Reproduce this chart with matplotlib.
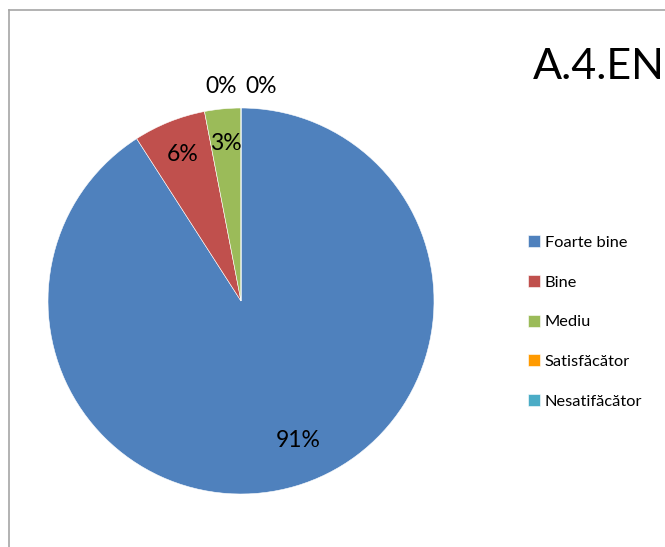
import numpy as np
import matplotlib
matplotlib.use('Agg')
import matplotlib.pyplot as plt
from matplotlib.lines import Line2D

plt.rcParams['font.family'] = ['Lato', 'DejaVu Sans']

## data
categories = ['Foarte bine', 'Bine', 'Mediu', 'Satisfăcător', 'Nesatifăcător']
counts = [30, 2, 1, 0, 0]
colors = ['#4F81BD', '#C0504D', '#9BBB59', '#FF9A00', '#4BACC6']
title = 'A.4.EN'
##

fig = plt.figure(figsize=(6.65, 5.47), dpi=100)
fig.patch.set_facecolor('white')

# pie axes (center ~ (241, 301) px, radius ~193 px)
ax = fig.add_axes([48 / 665, 53 / 547, 386 / 665, 386 / 547])
wedges, texts, autotexts = ax.pie(counts, colors=colors, startangle=90,
                                  counterclock=False, radius=1,
                                  autopct='%1.0f%%', pctdistance=0.82,
                                  wedgeprops=dict(edgecolor='white', linewidth=0.4),
                                  textprops=dict(fontsize=16.5, color='black'))
ax.set_xlim(-1, 1)
ax.set_ylim(-1, 1)
ax.set_aspect('auto')

# biggest slice label sits a bit closer to the right, like Excel's best fit
big = int(np.argmax(counts))
x0, y0 = autotexts[big].get_position()
ang = np.arctan2(y0, x0) + np.deg2rad(6)
autotexts[big].set_position((0.78 * np.cos(ang), 0.78 * np.sin(ang)))

# zero slices: labels pushed outside the top of the pie
zero_idx = [i for i, c in enumerate(counts) if c == 0]
for k, i in enumerate(zero_idx):
    off = (k - (len(zero_idx) - 1) / 2) * 0.205
    autotexts[i].set_position((off, 1.11))
    autotexts[i].set_ha('center')
    autotexts[i].set_va('center')

# legend
fig.legend(wedges, categories, loc='center left',
           bbox_to_anchor=(513 / 665, 1 - 322 / 547),
           frameon=False, fontsize=11.8, labelspacing=1.52,
           handlelength=0.75, handleheight=0.75, handletextpad=0.3)

fig.text(533 / 665, 1 - 67 / 547, title, fontsize=31, ha='left', va='center')

# chart frame (top and left edges visible)
fig.add_artist(Line2D([8.5 / 665, 8.5 / 665], [0, 1 - 9.5 / 547],
                      transform=fig.transFigure, color='#A6A6A6', lw=1.2))
fig.add_artist(Line2D([8.5 / 665, 1], [1 - 9.5 / 547, 1 - 9.5 / 547],
                      transform=fig.transFigure, color='#A6A6A6', lw=1.2))

fig.savefig('out.png', dpi=100)
